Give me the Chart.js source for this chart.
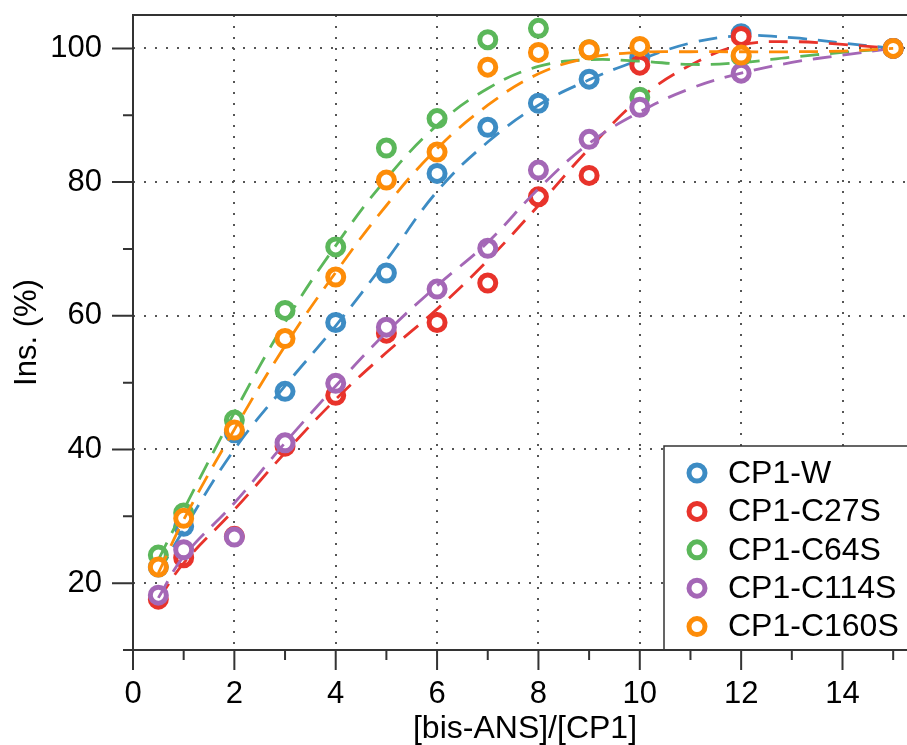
<!DOCTYPE html>
<html><head><meta charset="utf-8">
<script src="https://cdn.jsdelivr.net/npm/chart.js@4.4.0/dist/chart.umd.min.js"></script>
<style>html,body{margin:0;padding:0;background:#fff;overflow:hidden;width:907px;height:745px;}#wrap{width:930px;height:745px;position:relative;}</style>
</head><body><div id="wrap"><canvas id="c" width="930" height="745"></canvas></div>
<script>
// ---- data ----
const seriesNames = ['CP1-W', 'CP1-C27S', 'CP1-C64S', 'CP1-C114S', 'CP1-C160S'];
const pointX = [0.5, 1, 2, 3, 4, 5, 6, 7, 8, 9, 10, 12, 15];
const wY    = [22.4, 28.5, 42.5, 48.7, 59.0, 66.4, 81.3, 88.2, 91.8, 95.4, 98.6, 102.2, 100];
const c27Y  = [17.6, 23.8, 27.0, 40.5, 48.1, 57.4, 59.0, 64.9, 77.8, 81.0, 97.5, 101.8, 100];
const c64Y  = [24.2, 30.5, 44.4, 60.8, 70.3, 85.1, 89.5, 101.3, 103.0, 99.8, 92.7, 98.8, 100];
const c114Y = [18.2, 25.0, 26.9, 41.0, 49.9, 58.3, 64.0, 70.1, 81.8, 86.4, 91.2, 96.3, 100];
const c160Y = [22.4, 29.7, 42.9, 56.6, 65.8, 80.3, 84.5, 97.2, 99.4, 99.8, 100.3, 99.0, 100];
// fitted curves
const fitX    = [0.5, 1, 2, 3, 4, 5, 6, 7, 8, 9, 10, 11, 12, 13, 14, 15];
const wFit    = [21.5, 28.0, 40.0, 49.5, 58.5, 68.3, 78.6, 86.0, 91.5, 95.3, 98.3, 100.8, 101.9, 101.6, 100.8, 100];
const c27Fit  = [17.5, 23.0, 31.0, 39.5, 47.5, 54.5, 61.0, 68.3, 76.5, 85.0, 92.5, 97.5, 100.5, 101.0, 100.6, 100];
const c64Fit  = [23.5, 31.0, 45.5, 59.0, 70.5, 80.5, 88.5, 94.0, 97.3, 98.3, 98.1, 97.6, 97.9, 98.7, 99.4, 100];
const c114Fit = [17.8, 24.0, 32.0, 41.0, 49.5, 57.5, 64.5, 71.0, 79.0, 85.8, 90.5, 94.0, 96.3, 97.9, 99.0, 100];
const c160Fit = [21.5, 29.5, 43.0, 55.5, 66.5, 76.5, 85.0, 91.5, 96.2, 98.6, 99.4, 99.5, 99.5, 99.5, 99.6, 100];
const xTickLabels = [0, 2, 4, 6, 8, 10, 12, 14];
const xMinorTicks = [1, 3, 5, 7, 9, 11, 13, 15];
const yTickLabels = [20, 40, 60, 80, 100];
const yMinorTicks = [10, 30, 50, 70, 90];

// ---- styling ----
const colors = ['#3d8cc4', '#e8332b', '#5bb75a', '#a467b6', '#fd8c08'];
const FONT = '"Liberation Sans", Arial, Helvetica, sans-serif';
Chart.defaults.font.family = FONT;
Chart.defaults.color = '#000';

const ptsSets = [wY, c27Y, c64Y, c114Y, c160Y];
const fitSets = [wFit, c27Fit, c64Fit, c114Fit, c160Fit];
const datasets = [];
seriesNames.forEach((n, i) => {
  datasets.push({
    label: n, type: 'scatter',
    data: pointX.map((x, j) => ({x: x, y: ptsSets[i][j]})),
    showLine: false, pointRadius: 8, pointHoverRadius: 8, pointBorderWidth: 5,
    pointBorderColor: colors[i], pointBackgroundColor: '#fff', borderColor: colors[i],
    order: 10 - 2 * i, clip: false
  });
  datasets.push({
    label: n + ' fit', type: 'line',
    data: fitX.map((x, j) => ({x: x, y: fitSets[i][j]})),
    pointRadius: 0, borderColor: colors[i], borderWidth: 2.8, borderDash: [19, 11],
    tension: 0.4, fill: false, order: 9 - 2 * i
  });
});

const frame = {
  id: 'frame',
  afterDraw(chart) {
    const ctx = chart.ctx, a = chart.chartArea;
    const xs = chart.scales.x, ys = chart.scales.y;
    ctx.save();
    ctx.strokeStyle = '#333'; ctx.lineWidth = 2; ctx.lineCap = 'butt';
    ctx.beginPath();
    ctx.moveTo(a.left, a.bottom); ctx.lineTo(a.left, a.top);
    ctx.moveTo(a.left - 1, a.top); ctx.lineTo(a.right, a.top);
    ctx.moveTo(a.left, a.bottom); ctx.lineTo(a.right, a.bottom);
    xTickLabels.concat(xMinorTicks).forEach(v => {
      const px = xs.getPixelForValue(v);
      const len = xTickLabels.includes(v) ? 20 : 10;
      ctx.moveTo(px, a.bottom); ctx.lineTo(px, a.bottom + len);
    });
    yTickLabels.concat(yMinorTicks).forEach(v => {
      const py = ys.getPixelForValue(v);
      const len = yTickLabels.includes(v) ? 21 : 10;
      ctx.moveTo(a.left, py); ctx.lineTo(a.left - len, py);
    });
    ctx.stroke();
    // legend
    const bx = 664, by = 446;
    ctx.fillStyle = '#fff';
    ctx.fillRect(bx, by, a.right - bx + 20, a.bottom - by);
    ctx.lineWidth = 1.5; ctx.strokeStyle = '#333';
    ctx.strokeRect(bx, by, a.right - bx + 20, a.bottom - by);
    ctx.font = '32px ' + FONT;
    ctx.textBaseline = 'middle'; ctx.textAlign = 'left';
    seriesNames.forEach((n, i) => {
      const cy = 473 + i * 38.4;
      ctx.beginPath();
      ctx.arc(697, cy, 8, 0, Math.PI * 2);
      ctx.fillStyle = '#fff'; ctx.fill();
      ctx.lineWidth = 5; ctx.strokeStyle = colors[i]; ctx.stroke();
      ctx.fillStyle = '#000';
      ctx.fillText(n, 728, cy + 1);
    });
    ctx.strokeStyle = '#333'; ctx.lineWidth = 2;
    ctx.beginPath(); ctx.moveTo(a.left, a.bottom); ctx.lineTo(a.right, a.bottom); ctx.stroke();
    ctx.restore();
  }
};

new Chart(document.getElementById('c'), {
  type: 'scatter',
  data: {datasets: datasets},
  options: {
    responsive: false, animation: false, devicePixelRatio: 1,
    layout: {padding: {top: 15, right: 0, left: 0, bottom: 0}},
    plugins: {legend: {display: false}, tooltip: {enabled: false}},
    events: [],
    scales: {
      x: {
        type: 'linear', min: 0, max: 15.47,
        afterFit: s => { s.height = 95; s.paddingLeft = 0; s.paddingRight = 0; },
        afterBuildTicks: s => { s.ticks = xTickLabels.map(v => ({value: v})); },
        ticks: {
          autoSkip: false, maxRotation: 0, padding: 26,
          font: {size: 31}, color: '#000',
          callback: v => String(v)
        },
        grid: {
          drawTicks: false, lineWidth: 2,
          color: c => (c.tick && c.tick.value > 0) ? '#555' : 'rgba(0,0,0,0)'
        },
        border: {display: false, dash: [2, 9]},
        title: {display: true, text: '[bis-ANS]/[CP1]', font: {size: 32, lineHeight: 1}, padding: {top: 0, bottom: 0}, color: '#000'}
      },
      y: {
        type: 'linear', min: 10, max: 105,
        afterFit: s => { s.width = 133; s.paddingTop = 0; s.paddingBottom = 0; },
        afterBuildTicks: s => { s.ticks = yTickLabels.map(v => ({value: v})); },
        ticks: {
          autoSkip: false, padding: 31,
          font: {size: 31}, color: '#000',
          callback: v => String(v)
        },
        grid: {
          drawTicks: false, lineWidth: 2,
          color: '#555'
        },
        border: {display: false, dash: [2, 9]},
        title: {display: true, text: 'Ins. (%)', font: {size: 31, lineHeight: 1}, padding: {top: 12, bottom: 0}, color: '#000'}
      }
    }
  },
  plugins: [frame]
});
</script></body></html>
